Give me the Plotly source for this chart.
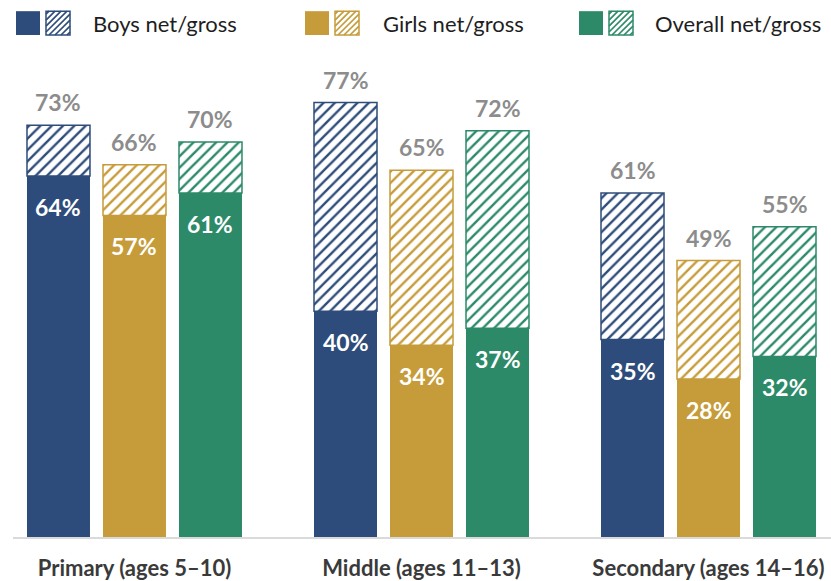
import plotly.graph_objects as go

categories = ["Primary (ages 5–10)", "Middle (ages 11–13)", "Secondary (ages 14–16)"]
series_names = ["Boys", "Girls", "Overall"]
net_boys = [64, 40, 35]
gross_boys = [73, 77, 61]
net_girls = [57, 34, 28]
gross_girls = [66, 65, 49]
net_overall = [61, 37, 32]
gross_overall = [70, 72, 55]
legend_labels = ["Boys net/gross", "Girls net/gross", "Overall net/gross"]

colors = ["#2E4C7B", "#C69C3A", "#2D8A69"]
nets = [net_boys, net_girls, net_overall]
grosses = [gross_boys, gross_girls, gross_overall]

FONT = "Lato, 'Noto Sans', sans-serif"
W, H = 831, 581
ML, MR, MT, MB = 13, 0, 40, 41
PW, PH = W - ML - MR, H - MT - MB
YMAX = 88.1
BARGAP = 0.2056
GROUPGAP = 0.171
slot = (1 - BARGAP) / 3

fig = go.Figure()
for k, name in enumerate(series_names):
    c = colors[k]
    fig.add_trace(go.Bar(
        x=categories, y=nets[k], name=name + " net", offsetgroup=name,
        marker=dict(color=c, line=dict(width=0)), showlegend=False, hoverinfo="skip"))
    fig.add_trace(go.Bar(
        x=categories, y=[g - n for g, n in zip(grosses[k], nets[k])], base=nets[k],
        name=name + " gross", offsetgroup=name,
        marker=dict(color="white", line=dict(color=c, width=1.5),
                    pattern=dict(shape="/", fgcolor=c, bgcolor="white", size=8,
                                 solidity=0.3, fillmode="replace")),
        showlegend=False, hoverinfo="skip"))

annotations = []
for k in range(3):
    for i in range(len(categories)):
        xpos = i + (k - 1) * slot
        annotations.append(dict(x=xpos, y=grosses[k][i], xref="x", yref="y",
                                text=f"{grosses[k][i]}%", showarrow=False, yshift=23,
                                yanchor="middle",
                                font=dict(family=FONT, size=23, color="#8C8C8C", weight="bold")))
        annotations.append(dict(x=xpos, y=nets[k][i], xref="x", yref="y",
                                text=f"{nets[k][i]}%", showarrow=False, yshift=-31,
                                yanchor="middle",
                                font=dict(family=FONT, size=23, color="white", weight="bold")))


def px2paper(px, py):
    return (px - ML) / PW, (H - MB - py) / PH


shapes = []
leg_x = [16, 305, 579]
leg_text_x = [91, 381, 653]
sq = 24
ly0 = 11
for k in range(3):
    c = colors[k]
    x0 = leg_x[k]
    a0, b0 = px2paper(x0, ly0 + sq)
    a1, b1 = px2paper(x0 + sq, ly0)
    shapes.append(dict(type="rect", xref="paper", yref="paper", x0=a0, y0=b0, x1=a1, y1=b1,
                       fillcolor=c, line=dict(width=0)))
    hx = x0 + 30
    gap = 6
    path = ""
    t = gap / 2
    while t < 2 * sq:
        u1 = max(0, t - sq); v1 = t - u1
        u2 = min(sq, t); v2 = t - u2
        p1 = px2paper(hx + u1, ly0 + v1)
        p2 = px2paper(hx + u2, ly0 + v2)
        path += f"M{p1[0]},{p1[1]} L{p2[0]},{p2[1]} "
        t += gap
    shapes.append(dict(type="path", xref="paper", yref="paper", path=path,
                       line=dict(color=c, width=1.6)))
    a0, b0 = px2paper(hx, ly0 + sq)
    a1, b1 = px2paper(hx + sq, ly0)
    shapes.append(dict(type="rect", xref="paper", yref="paper", x0=a0, y0=b0, x1=a1, y1=b1,
                       fillcolor="rgba(0,0,0,0)", line=dict(color=c, width=1.5)))
    tx, ty = px2paper(leg_text_x[k], ly0 + sq / 2)
    annotations.append(dict(x=tx, y=ty, xref="paper", yref="paper", text=legend_labels[k],
                            showarrow=False, xanchor="left", yanchor="middle",
                            font=dict(family=FONT, size=22, color="#1E1E1E")))

fig.update_layout(
    width=W, height=H,
    margin=dict(l=ML, r=MR, t=MT, b=MB),
    barmode="group", bargap=BARGAP, bargroupgap=GROUPGAP,
    plot_bgcolor="white", paper_bgcolor="white",
    showlegend=False,
    annotations=annotations, shapes=shapes,
    xaxis=dict(type="category", range=[-0.4233, 2.4268], showline=True, linecolor="#DADADA",
               linewidth=2, ticks="outside", ticklen=11, tickcolor="rgba(0,0,0,0)",
               tickfont=dict(family=FONT, size=22, color="#3A3A3A", weight="bold"),
               showgrid=False, fixedrange=True),
    yaxis=dict(range=[0, YMAX], visible=False, showgrid=False, zeroline=False),
)

fig.write_html("out.html", config={"displayModeBar": False},
               post_script="document.body.style.margin='0';document.body.style.overflow='hidden';")
